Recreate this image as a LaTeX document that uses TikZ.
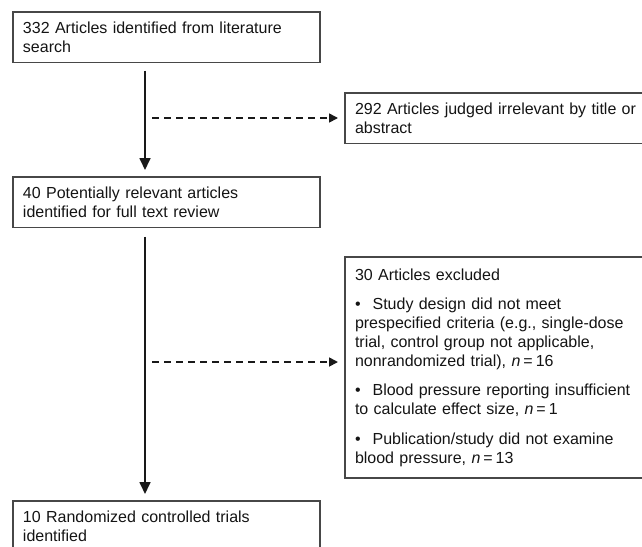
\documentclass[tikz,border=0pt]{standalone}
\usepackage{fontspec}
\setmainfont{Liberation Sans}
\usetikzlibrary{arrows.meta}
\newcommand{\ncount}[1]{\textit{n}\hspace{3pt}=\hspace{3pt}#1}
\begin{document}
\begin{tikzpicture}[x=1pt,y=-1pt,
  box/.style={draw=black!72, line width=1.3pt, rectangle, anchor=north west,
    inner sep=10pt, outer sep=0pt, align=left,
    font=\fontsize{16}{19}\selectfont, text=black!92},
  flow/.style={line width=1.7pt, draw=black!90, fill=black!90,
    -{Triangle[width=11pt,length=12pt]}},
  skip/.style={line width=1.7pt, draw=black!90, dash pattern=on 7pt off 5pt,
    -{Triangle[width=9pt,length=9pt,fill=black!90]}}
]
\clip (0,0) rectangle (642,546);
\useasboundingbox (0,0) rectangle (642,546);

\node[box, text width=287pt, minimum height=49pt] (s1) at (13,12)
  {332 Articles identified from literature\\search};
\node[box, text width=300pt, minimum height=50pt] (x1) at (345,93)
  {292 Articles judged irrelevant by title or\\abstract};
\node[box, text width=287pt, minimum height=50pt] (s2) at (13,177)
  {40 Potentially relevant articles\\identified for full text review};
\node[box, text width=300pt, minimum height=221pt] (x2) at (345,257)
  {30 Articles excluded\\[10pt]
   \textbullet\hspace{12pt}Study design did not meet\\
   prespecified criteria (e.g., single-dose\\
   trial, control group not applicable,\\
   nonrandomized trial), \ncount{16}\\[10pt]
   \textbullet\hspace{12pt}Blood pressure reporting insufficient\\
   to calculate effect size, \ncount{1}\\[11pt]
   \textbullet\hspace{12pt}Publication/study did not examine\\
   blood pressure, \ncount{13}};
\node[box, text width=287pt, minimum height=50pt] (s3) at (13,501)
  {10 Randomized controlled trials\\identified};

\coordinate (d1) at (145,118);
\coordinate (d2) at (145,362);

\draw[flow, shorten <=8pt, shorten >=7pt]
  ([xshift=132pt]s1.south west) -- ([xshift=132pt]s2.north west);
\draw[flow, shorten <=9pt, shorten >=7pt]
  ([xshift=132pt]s2.south west) -- ([xshift=132pt]s3.north west);
\draw[skip, shorten <=7pt, shorten >=7pt] (d1) -- (x1.west |- d1);
\draw[skip, shorten <=7pt, shorten >=7pt] (d2) -- (x2.west |- d2);
\end{tikzpicture}
\end{document}
